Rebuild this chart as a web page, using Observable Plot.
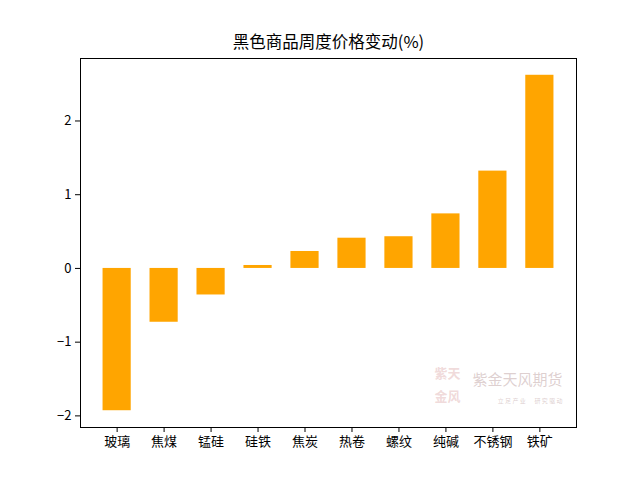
<!DOCTYPE html>
<html><head><meta charset="utf-8">
<script src="https://cdn.jsdelivr.net/npm/d3@7"></script>
<script src="https://cdn.jsdelivr.net/npm/@observablehq/plot@0.6"></script>
<style>body{margin:0;background:#fff}</style>
</head><body><div id="chart"></div>
<script>
const categories = ["玻璃","焦煤","锰硅","硅铁","焦炭","热卷","螺纹","纯碱","不锈钢","铁矿"];
const values = [-1.93,-0.73,-0.36,0.04,0.23,0.41,0.43,0.74,1.32,2.62];
const yTicks = [-2,-1,0,1,2];
const title = "黑色商品周度价格变动(%)";
const watermark = ["紫金天风期货"];
const watermarkSub = ["立 足 产 业 　 研 究 驱 动"];
const logoTop = ["紫天"];
const logoBottom = ["金风"];

const data = categories.map((c, i) => ({name: c, value: values[i]}));
const lo = d3.min(values), hi = d3.max(values), pad = (hi - lo) * 0.05;

const chart = Plot.plot({
  width: 640, height: 480,
  marginLeft: 80, marginRight: 64, marginTop: 58, marginBottom: 53,
  style: {fontFamily: "'Noto Sans CJK SC', 'DejaVu Sans', sans-serif", fontSize: "13px", color: "#000", background: "#fff"},
  x: {domain: categories, paddingInner: 0.4, paddingOuter: 0.48, round: false, label: null, tickSize: 5, tickPadding: 4},
  y: {domain: [lo - pad, hi + pad], ticks: yTicks, tickFormat: d3.format("d"), label: null, tickSize: 5, tickPadding: 4},
  marks: [
    Plot.text(logoTop, {frameAnchor: "bottom-right", dx: -129, dy: -54, fontSize: 13, fill: "#d9a0a0", fillOpacity: 0.4, lineAnchor: "middle", textAnchor: "middle", fontWeight: "bold"}),
    Plot.text(logoBottom, {frameAnchor: "bottom-right", dx: -129, dy: -31, fontSize: 13, fill: "#d9a0a0", fillOpacity: 0.4, lineAnchor: "middle", textAnchor: "middle", fontWeight: "bold"}),
    Plot.text(watermark, {frameAnchor: "bottom-right", dx: -14, dy: -47, fontSize: 15, fill: "#c8b0b0", fillOpacity: 0.6, textAnchor: "end", lineAnchor: "middle"}),
    Plot.text(watermarkSub, {frameAnchor: "bottom-right", dx: -14, dy: -26, fontSize: 6, fill: "#c8b0b0", fillOpacity: 0.6, textAnchor: "end", lineAnchor: "middle"}),
    Plot.barY(data, {x: "name", y: "value", fill: "#FFA500"}),
    Plot.frame({stroke: "#000"}),
    Plot.text([title], {frameAnchor: "top", dy: -16, lineAnchor: "middle", fontSize: 16.5})
  ]
});
document.getElementById("chart").append(chart);
</script>
</body></html>
